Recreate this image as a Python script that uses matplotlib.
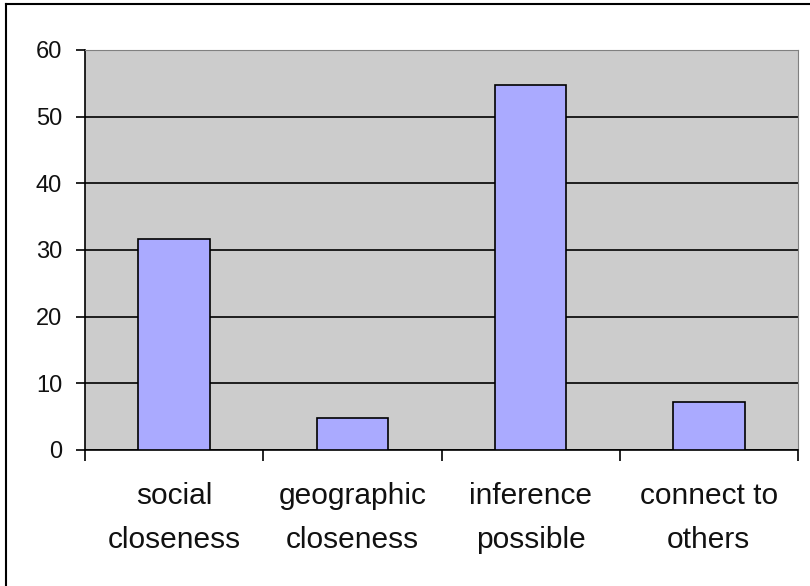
import matplotlib
matplotlib.use("Agg")
import matplotlib.pyplot as plt
from matplotlib.lines import Line2D

categories = ["social\ncloseness", "geographic\ncloseness", "inference\npossible", "connect to\nothers"]
values = [31.7, 4.75, 54.75, 7.25]
yticks = [0, 10, 20, 30, 40, 50, 60]

plt.rcParams['font.family'] = ['Liberation Sans', 'DejaVu Sans']

fig = plt.figure(figsize=(8.1, 5.86), dpi=100)
ax = fig.add_axes([85/810, 1-450/586, (798-85)/810, 400/586])
ax.set_facecolor('#CCCCCC')

x = list(range(len(categories)))
ax.bar(x, values, width=0.40, color='#AAAAFF', edgecolor='black', linewidth=1.2, zorder=3)

ax.set_xlim(-0.5, len(categories) - 0.5)
ax.set_ylim(0, 60)
ax.set_yticks(yticks)
ax.set_yticklabels([str(t) for t in yticks])
ax.yaxis.grid(True, color='black', linewidth=1.2, zorder=1)
ax.set_axisbelow(True)

# x ticks at category boundaries, labels at centers
ax.set_xticks([i - 0.5 for i in range(len(categories) + 1)])
ax.set_xticklabels([])
ax.set_xticks(x, minor=True)
ax.set_xticklabels(categories, minor=True, fontsize=21.5, linespacing=1.72, color='#111111')
ax.tick_params(axis='x', which='minor', length=0, pad=23)
ax.tick_params(axis='x', which='major', length=8, width=1.2, color='black', direction='out')
ax.tick_params(axis='y', length=6.5, width=1.2, color='black', pad=10, labelsize=17, labelcolor='#111111')

ax.spines['left'].set_color('black')
ax.spines['left'].set_linewidth(1.2)
ax.spines['bottom'].set_color('black')
ax.spines['bottom'].set_linewidth(1.2)
ax.spines['top'].set_color('#808080')
ax.spines['right'].set_color('#808080')

# outer chart border (left and top visible)
fig.add_artist(Line2D([6/810, 6/810], [0, 1-4/586], transform=fig.transFigure, color='black', linewidth=1.5))
fig.add_artist(Line2D([6/810, 1], [1-4/586, 1-4/586], transform=fig.transFigure, color='black', linewidth=1.5))

fig.savefig('out.png', dpi=100)
